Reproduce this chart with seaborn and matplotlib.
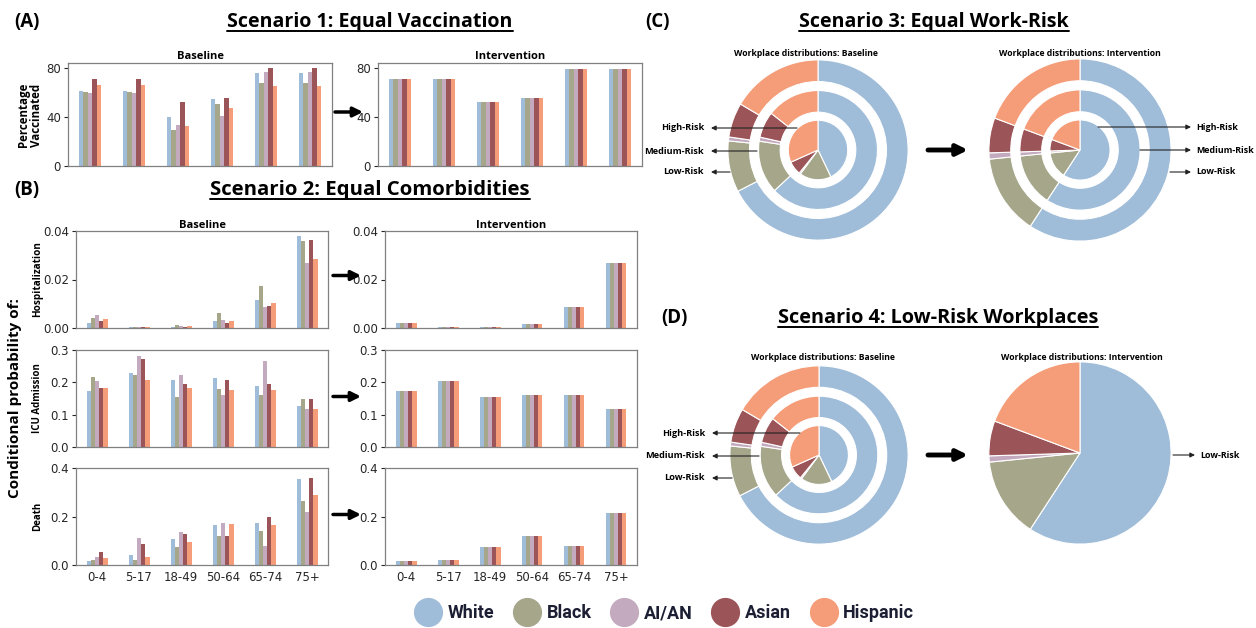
import numpy as np
import pandas as pd
import matplotlib
matplotlib.use("Agg")
import matplotlib.pyplot as plt
import seaborn as sns
from matplotlib.patches import FancyArrowPatch
from matplotlib.lines import Line2D
from matplotlib.font_manager import FontProperties

# ---------------- data ----------------
groups = ["White", "Black", "AI/AN", "Asian", "Hispanic"]
colors = ["#9fbcd9", "#a5a68a", "#c3aabe", "#9b5457", "#f59c78"]
ages = ["0-4", "5-17", "18-49", "50-64", "65-74", "75+"]

# rows = age groups, columns = White, Black, AI/AN, Asian, Hispanic
vacc_base = [[61, 60.4, 59.3, 71, 66.4],
             [61, 60.4, 59.3, 71, 66.4],
             [40, 29.7, 33.2, 52.5, 32.4],
             [54.7, 50.6, 40.5, 55.8, 47],
             [75.6, 68, 76.7, 79.7, 65],
             [75.6, 68, 76.7, 79.7, 65]]
vacc_int = [70.7, 70.7, 52.2, 55.8, 79.5, 79.5]

hosp_base = [[0.0022, 0.0043, 0.0052, 0.0029, 0.0037],
             [0.0004, 0.0006, 0.0004, 0.0005, 0.0004],
             [0.0006, 0.0014, 0.0009, 0.0005, 0.0009],
             [0.0029, 0.0063, 0.0032, 0.0019, 0.0029],
             [0.0114, 0.0172, 0.0086, 0.0090, 0.0103],
             [0.0379, 0.0360, 0.0269, 0.0363, 0.0286]]
hosp_int = [0.0021, 0.0004, 0.0004, 0.0018, 0.0086, 0.0266]

icu_base = [[0.174, 0.217, 0.204, 0.181, 0.183],
            [0.228, 0.222, 0.280, 0.271, 0.206],
            [0.208, 0.155, 0.224, 0.194, 0.184],
            [0.212, 0.180, 0.162, 0.207, 0.177],
            [0.190, 0.162, 0.265, 0.194, 0.177],
            [0.127, 0.150, 0.116, 0.150, 0.118]]
icu_int = [0.174, 0.205, 0.155, 0.162, 0.162, 0.116]

death_base = [[0.017, 0.019, 0.033, 0.054, 0.028],
              [0.040, 0.019, 0.110, 0.086, 0.033],
              [0.108, 0.076, 0.137, 0.126, 0.094],
              [0.167, 0.120, 0.172, 0.120, 0.168],
              [0.172, 0.139, 0.080, 0.199, 0.163],
              [0.354, 0.263, 0.218, 0.357, 0.290]]
death_int = [0.016, 0.019, 0.075, 0.118, 0.078, 0.216]

# workplace shares (White, Black, AI/AN, Asian, Hispanic)
work_base_low = [0.675, 0.092, 0.007, 0.062, 0.165]
work_base_med = [0.630, 0.143, 0.011, 0.071, 0.144]
work_base_high = [0.429, 0.172, 0.008, 0.074, 0.317]
work_int_low = [0.592, 0.142, 0.011, 0.062, 0.193]
work_int_med = [0.592, 0.142, 0.011, 0.062, 0.193]
work_int_high = [0.592, 0.142, 0.011, 0.062, 0.193]

# ---------------- style ----------------
sns.set_style("white")
plt.rcParams["font.family"] = ["DejaVu Sans"]
plt.rcParams["axes.edgecolor"] = "#808080"
plt.rcParams["axes.linewidth"] = 0.9
plt.rcParams["text.color"] = "black"
plt.rcParams["axes.titlecolor"] = "black"

W, H = 1256, 628
fig = plt.figure(figsize=(W / 100, H / 100), dpi=100)
palette = dict(zip(groups, colors))
TF = "Open Sans"


def rect(l, t, r, b):
    return [l / W, 1 - b / H, (r - l) / W, (b - t) / H]


def fp(x, y):
    return (x / W, 1 - y / H)


def long_df(values):
    arr = np.asarray(values, dtype=float)
    if arr.ndim == 1:
        arr = np.repeat(arr[:, None], len(groups), axis=1)
    return pd.DataFrame({
        "age": np.repeat(ages, len(groups)),
        "group": groups * len(ages),
        "value": arr.ravel(),
    })


def bar_panel(box, values, ylim, yticks, ylabels, show_x, title=None, tpad=3):
    ax = fig.add_axes(rect(*box))
    sns.barplot(data=long_df(values), x="age", y="value", hue="group",
                order=ages, hue_order=groups, palette=palette, width=0.5,
                saturation=1, linewidth=0, legend=False, ax=ax)
    ax.set_xlim(-0.5, 5.5)
    ax.set_ylim(*ylim)
    ax.set_yticks(yticks)
    ax.set_yticklabels(ylabels)
    ax.set_xlabel("")
    ax.set_ylabel("")
    for s in ax.spines.values():
        s.set_visible(True)
        s.set_color("#808080")
    ax.tick_params(axis="y", left=True, length=3, width=0.8, labelsize=8.5,
                   colors="#262626", pad=2)
    ax.tick_params(axis="x", bottom=False, length=0, labelsize=8.5,
                   colors="#262626", labelbottom=show_x, pad=4)
    if title:
        ax.set_title(title, fontsize=8, fontweight="bold", family=TF,
                     pad=tpad)
    return ax


def arrow(x0, y0, x1, y1, lw=2.5, ms=14, color="black"):
    a = FancyArrowPatch(fp(x0, y0), fp(x1, y1), transform=fig.transFigure,
                        arrowstyle="-|>", mutation_scale=ms, lw=lw,
                        color=color, shrinkA=0, shrinkB=0)
    fig.add_artist(a)


# ---------------- panel A ----------------
bar_panel((68, 63, 332, 166), vacc_base, (0, 84), [0, 40, 80],
          ["0", "40", "80"], False, "Baseline")
bar_panel((378, 63, 642, 166), vacc_int, (0, 84), [0, 40, 80],
          ["0", "40", "80"], False, "Intervention")
fig.text(*fp(30, 115), "Percentage\nVaccinated", rotation=90, ha="center",
         va="center", fontsize=8.3, fontweight="bold", family=TF,
         linespacing=1.05)
arrow(335, 112, 363, 112)

# ---------------- panel B ----------------
rows = [
    (231, 328, hosp_base, hosp_int, (0, 0.04), [0, 0.02, 0.04],
     ["0.00", "0.02", "0.04"], "Hospitalization"),
    (350, 447, icu_base, icu_int, (0, 0.3), [0, 0.1, 0.2, 0.3],
     ["0.0", "0.1", "0.2", "0.3"], "ICU Admission"),
    (468, 565, death_base, death_int, (0, 0.4), [0, 0.2, 0.4],
     ["0.0", "0.2", "0.4"], "Death"),
]
for i, (t, b, vb, vi, yl, yt, ytl, lab) in enumerate(rows):
    last = i == len(rows) - 1
    bar_panel((76, t, 328, b), vb, yl, yt, ytl, last,
              "Baseline" if i == 0 else None, tpad=1.5)
    bar_panel((385, t, 637, b), vi, yl, yt, ytl, last,
              "Intervention" if i == 0 else None, tpad=1.5)
    fig.text(*fp(38, (t + b) / 2), lab, rotation=90, ha="center", va="center",
             fontsize=7.2 if i == 0 else 7, fontweight="bold", family=TF)
    yy = (t + b) / 2 - 4 if i == 0 else (t + b) / 2 - 2
    arrow(333, yy, 361, yy)
fig.text(*fp(15, 398), "Conditional probability of:", rotation=90,
         ha="center", va="center", fontsize=11, fontweight="bold",
         family=TF)


# ---------------- pies ----------------
RING_W = 0.24


def pie_panel(cx, cy, r, rings_data, title, tx, ty):
    ax = fig.add_axes(rect(cx - r, cy - r, cx + r, cy + r))
    wp = dict(edgecolor="white", linewidth=0.8)
    if len(rings_data) == 3:
        low, med, high = rings_data
        ax.pie(low, radius=1.0, colors=colors, startangle=90, counterclock=False,
               wedgeprops=dict(width=RING_W, **wp))
        ax.pie(med, radius=0.66, colors=colors, startangle=90, counterclock=False,
               wedgeprops=dict(width=RING_W, **wp))
        ax.pie(high, radius=0.33, colors=colors, startangle=90, counterclock=False,
               wedgeprops=wp)
    else:
        ax.pie(rings_data[0], radius=1.0, colors=colors, startangle=90,
               counterclock=False, wedgeprops=wp)
    ax.set_xlim(-1.01, 1.01)
    ax.set_ylim(-1.01, 1.01)
    ax.set_aspect("equal")
    ax.axis("off")
    fig.text(*fp(tx, ty), title, ha="center", va="center", fontsize=6.2,
             fontweight="bold", family=TF)
    return ax


def risk_label(text, tail_x, tip_x, y, side):
    arrow(tail_x, y, tip_x, y, lw=0.8, ms=7, color="#222222")
    if side == "left":
        fig.text(*fp(tip_x - 7, y), text, ha="right", va="center", fontsize=6.6,
                 fontweight="bold", family=TF)
    else:
        fig.text(*fp(tip_x + 5, y), text, ha="left", va="center", fontsize=6.4,
                 fontweight="bold", family=TF)


# panel C
pie_panel(818, 150, 91, [work_base_low, work_base_med, work_base_high],
          "Workplace distributions: Baseline", 806, 53)
risk_label("High-Risk", 797, 711, 128, "left")
risk_label("Medium-Risk", 757, 711, 151, "left")
risk_label("Low-Risk", 730, 711, 172, "left")
arrow(928, 150, 968, 150, lw=3.5, ms=16)
pie_panel(1080, 150, 92, [work_int_low, work_int_med, work_int_high],
          "Workplace distributions: Intervention", 1080, 53)
risk_label("High-Risk", 1098, 1191, 127, "right")
risk_label("Medium-Risk", 1140, 1191, 150, "right")
risk_label("Low-Risk", 1170, 1191, 172, "right")

# panel D
pie_panel(819, 455, 90, [work_base_low, work_base_med, work_base_high],
          "Workplace distributions: Baseline", 823, 357)
risk_label("High-Risk", 800, 712, 433, "left")
risk_label("Medium-Risk", 759, 712, 456, "left")
risk_label("Low-Risk", 732, 712, 478, "left")
arrow(928, 455, 968, 455, lw=3.5, ms=16)
pie_panel(1080, 453, 92, [work_int_low],
          "Workplace distributions: Intervention", 1082, 358)
risk_label("Low-Risk", 1173, 1195, 455, "right")

# ---------------- headers ----------------
for lab, x, y in [("(A)", 27, 22), ("(B)", 27, 190), ("(C)", 657, 22), ("(D)", 674, 318)]:
    fig.text(*fp(x, y), lab, ha="center", va="center", fontsize=13.5,
             fontweight="bold", family=TF, color="black")

title_specs = [("Scenario 1: Equal Vaccination", 370, 22, 284),
               ("Scenario 2: Equal Comorbidities", 370, 190, 318),
               ("Scenario 3: Equal Work-Risk", 934, 22, 268),
               ("Scenario 4: Low-Risk Workplaces", 938, 318, 318)]
title_texts = []
for s, x, y, wt in title_specs:
    title_texts.append((fig.text(*fp(x, y), s, ha="center", va="center",
                                 fontsize=13, fontweight="bold", family=TF,
                                 color="black"), wt))

# ---------------- legend ----------------
handles = [Line2D([0], [0], marker="o", linestyle="", markersize=20,
                  markerfacecolor=c, markeredgecolor=c) for c in colors]
fig.legend(handles, groups, loc="center", bbox_to_anchor=(662 / W, 1 - 613 / H),
           ncol=5, frameon=False,
           prop=FontProperties(family="Roboto", weight="bold", size=13),
           handletextpad=0.1, columnspacing=0.8, handlelength=2.0,
           labelcolor="#1c1f33")

# fit scenario titles to measured widths, then underline
fig.canvas.draw()
renderer = fig.canvas.get_renderer()
for t, wt in title_texts:
    bb = t.get_window_extent(renderer)
    t.set_fontsize(13 * wt / bb.width)
fig.canvas.draw()
for t, wt in title_texts:
    bb = t.get_window_extent(renderer)
    yline = (bb.y0 + 1.5) / H
    fig.add_artist(Line2D([bb.x0 / W, bb.x1 / W], [yline, yline],
                          transform=fig.transFigure, color="black", lw=1.4))

fig.savefig("out.png", dpi=100)
